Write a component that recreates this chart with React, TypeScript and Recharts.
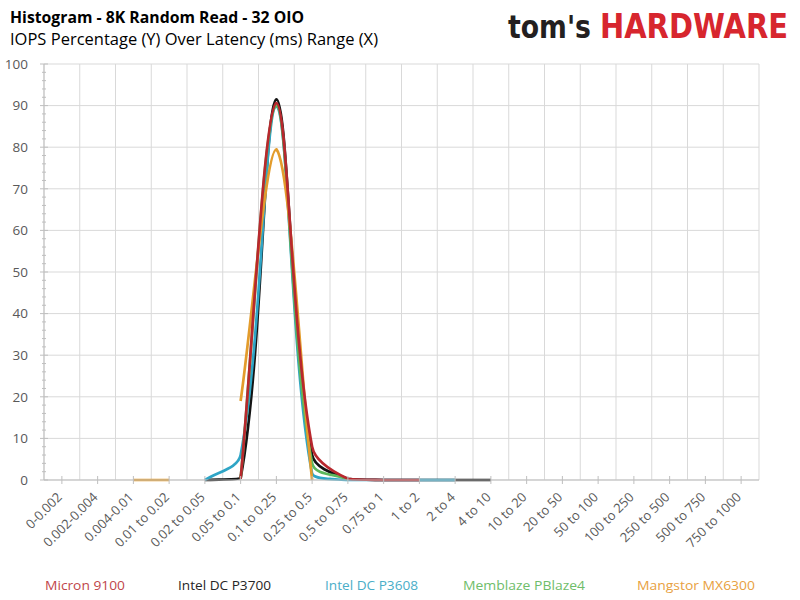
import React from 'react';
import { LineChart, Line, XAxis, YAxis, CartesianGrid } from 'recharts';

const categories = [
  '0-0.002', '0.002-0.004', '0.004-0.01', '0.01 to 0.02', '0.02 to 0.05',
  '0.05 to 0.1', '0.1 to 0.25', '0.25 to 0.5', '0.5 to 0.75', '0.75 to 1',
  '1 to 2', '2 to 4', '4 to 10', '10 to 20', '20 to 50',
  '50 to 100', '100 to 250', '250 to 500', '500 to 750', '750 to 1000',
];

const intelP3700 = [null, null, null, null, 0, 0.5, 91.5, 6, 0.3, 0, 0, 0, 0, null, null, null, null, null, null, null];
const intelP3608 = [null, null, null, null, 0, 6, 89.8, 1.5, 0, 0, 0, 0, null, null, null, null, null, null, null, null];
const memblazePBlaze4 = [null, null, null, null, null, 0.3, 90, 4, 0.2, null, null, null, null, null, null, null, null, null, null, null];
const mangstorMX6300 = [null, null, 0, 0, null, 19, 79.5, 0, null, null, null, null, null, null, null, null, null, null, null, null];
const micron9100 = [null, null, null, null, null, 0.3, 90.6, 8, 0.3, 0, 0, null, null, null, null, null, null, null, null, null];

const yTicks = [0, 2, 4, 6, 8, 10, 12, 14, 16, 18, 20, 22, 24, 26, 28, 30, 32, 34, 36, 38, 40, 42, 44, 46, 48, 50,
  52, 54, 56, 58, 60, 62, 64, 66, 68, 70, 72, 74, 76, 78, 80, 82, 84, 86, 88, 90, 92, 94, 96, 98, 100];
const yMajorTicks = [10, 20, 30, 40, 50, 60, 70, 80, 90];
// category boundaries (between bands) used for the vertical gridlines
const categoryBoundaries = [1, 2, 3, 4, 5, 6, 7, 8, 9, 10, 11, 12, 13, 14, 15, 16, 17, 18, 19, 20];

const series = [
  { key: 'p3700', name: 'Intel DC P3700', color: '#141414', text: '#262626', values: intelP3700, lx: 178, lw: 93 },
  { key: 'p3608', name: 'Intel DC P3608', color: '#2fa5c6', text: '#4aaec8', values: intelP3608, lx: 325, lw: 93 },
  { key: 'pblaze', name: 'Memblaze PBlaze4', color: '#5cb85c', text: '#6fbd6a', values: memblazePBlaze4, lx: 463, lw: 122 },
  { key: 'mx6300', name: 'Mangstor MX6300', color: '#e39c2c', text: '#e8a141', values: mangstorMX6300, lx: 637, lw: 118 },
  { key: 'micron', name: 'Micron 9100', color: '#b8282e', text: '#c0464a', values: micron9100, lx: 45, lw: 80 },
];

const data = categories.map((cat, i) => {
  const row: any = { cat, idx: i };
  series.forEach((s) => { row[s.key] = s.values[i]; });
  return row;
});

// Excel-like smoothed curve (chord-length weighted Catmull-Rom with clamped controls)
const excelSmooth: any = (context: any) => {
  let pts: number[][] = [];
  const flush = () => {
    const n = pts.length;
    if (n === 0) return;
    context.moveTo(pts[0][0], pts[0][1]);
    if (n === 1) return;
    if (n === 2) { context.lineTo(pts[1][0], pts[1][1]); return; }
    const cin: number[][] = [];
    const cout: number[][] = [];
    for (let i = 0; i < n; i++) {
      const p = pts[i];
      const prev = i > 0 ? pts[i - 1] : p;
      const next = i < n - 1 ? pts[i + 1] : p;
      const dp = Math.hypot(p[0] - prev[0], p[1] - prev[1]);
      const dn = Math.hypot(next[0] - p[0], next[1] - p[1]);
      const sum = dp + dn || 1;
      const tx = next[0] - prev[0];
      const ty = next[1] - prev[1];
      const fIn = (dp / sum) / 3;
      const fOut = (dn / sum) / 3;
      let iy = p[1] - ty * fIn;
      let oy = p[1] + ty * fOut;
      iy = Math.max(Math.min(prev[1], p[1]), Math.min(Math.max(prev[1], p[1]), iy));
      oy = Math.max(Math.min(next[1], p[1]), Math.min(Math.max(next[1], p[1]), oy));
      cin[i] = [p[0] - tx * fIn, iy];
      cout[i] = [p[0] + tx * fOut, oy];
    }
    for (let i = 1; i < n; i++) {
      context.bezierCurveTo(cout[i - 1][0], cout[i - 1][1], cin[i][0], cin[i][1], pts[i][0], pts[i][1]);
    }
  };
  return {
    areaStart() {},
    areaEnd() {},
    lineStart() { pts = []; },
    lineEnd() { flush(); pts = []; },
    point(x: number, y: number) { pts.push([+x, +y]); },
  };
};

const FONT = '"Open Sans", "Noto Sans", sans-serif';
const LOGO_FONT = '"DejaVu Sans", sans-serif';

const XTick = (props: any) => {
  const { x, y, payload } = props;
  return (
    <g transform={`translate(${x},${y})`}>
      <line x1={0} x2={0} y1={-4} y2={4} stroke="#bfbfbf" strokeWidth={1} />
      <text x={0} y={0} transform="translate(1,18) rotate(-45)" textAnchor="end"
        fontFamily={FONT} fontSize={13} fill="#595959">{payload.value}</text>
    </g>
  );
};

const YTick = (props: any) => {
  const { x, y, payload } = props;
  const v = payload.value;
  const major = v % 10 === 0;
  return (
    <g>
      <line x1={major ? x - 4 : x - 2} x2={major ? x + 4 : x + 2} y1={y} y2={y} stroke="#bfbfbf" strokeWidth={1} />
      {major && (
        <text x={x - 16} y={y} dy="0.36em" textAnchor="end" fontFamily={FONT} fontSize={13.5} fill="#595959">{v}</text>
      )}
    </g>
  );
};

export default function App() {
  return (
    <div style={{ position: 'absolute', left: 0, top: 0, width: 800, height: 600, background: '#fff', overflow: 'hidden' }}>
      <LineChart width={800} height={600} data={data} margin={{ top: 64, right: 41, bottom: 0, left: 0 }}>
        <CartesianGrid stroke="#d9d9d9" strokeWidth={1} xAxisId="grid" yAxisId="grid" />
        <XAxis xAxisId="grid" dataKey="idx" type="number" domain={[0, 20]} ticks={categoryBoundaries}
          allowDataOverflow hide />
        <YAxis yAxisId="grid" type="number" domain={[0, 100]} ticks={yMajorTicks} allowDataOverflow hide />
        <XAxis dataKey="cat" scale="band" interval={0} height={120} tickSize={0} tickMargin={0}
          tick={<XTick />} tickLine={false} axisLine={{ stroke: '#bfbfbf', strokeWidth: 1 }} />
        <XAxis xAxisId="top" dataKey="cat" scale="band" orientation="top" height={0} tick={false}
          tickLine={false} axisLine={{ stroke: '#000', strokeWidth: 1.5 }} />
        <YAxis domain={[0, 100]} ticks={yTicks} interval={0} width={44} tickSize={0} tickMargin={0}
          tick={<YTick />} tickLine={false} axisLine={{ stroke: '#bfbfbf', strokeWidth: 1 }} />
        <YAxis yAxisId="right" orientation="right" domain={[0, 100]} width={0} tick={false}
          tickLine={false} axisLine={{ stroke: '#000', strokeWidth: 1.5 }} />
        {series.map((s) => (
          <Line key={s.key} dataKey={s.key} name={s.name} stroke={s.color} strokeWidth={2.7}
            type={excelSmooth} dot={false} activeDot={false} connectNulls={false} isAnimationActive={false} />
        ))}
      </LineChart>
      <svg width={800} height={600} style={{ position: 'absolute', left: 0, top: 0, pointerEvents: 'none' }}>
        <text x={10} y={23} fontFamily={FONT} fontWeight={700} fontSize={15.5} fill="#000"
          textLength={294} lengthAdjust="spacingAndGlyphs">Histogram - 8K Random Read - 32 OIO</text>
        <text x={10} y={45} fontFamily={FONT} fontSize={15.5} fill="#000"
          textLength={368} lengthAdjust="spacingAndGlyphs">IOPS Percentage (Y) Over Latency (ms) Range (X)</text>
        <text x={0} y={0} transform="translate(508,38) scale(1,1.2)" fontFamily={LOGO_FONT} fontWeight={700}
          fontSize={27} fill="#231f20" textLength={83} lengthAdjust="spacingAndGlyphs">tom's</text>
        <text x={0} y={0} transform="translate(600,38) scale(1,1.2)" fontFamily={LOGO_FONT} fontWeight={700}
          fontSize={28} fill="#d7262e" textLength={188} lengthAdjust="spacingAndGlyphs">HARDWARE</text>
        {series.map((s) => (
          <text key={s.key} x={s.lx} y={590} fontFamily={FONT} fontSize={13} fill={s.text}
            textLength={s.lw} lengthAdjust="spacingAndGlyphs">{s.name}</text>
        ))}
      </svg>
    </div>
  );
}
